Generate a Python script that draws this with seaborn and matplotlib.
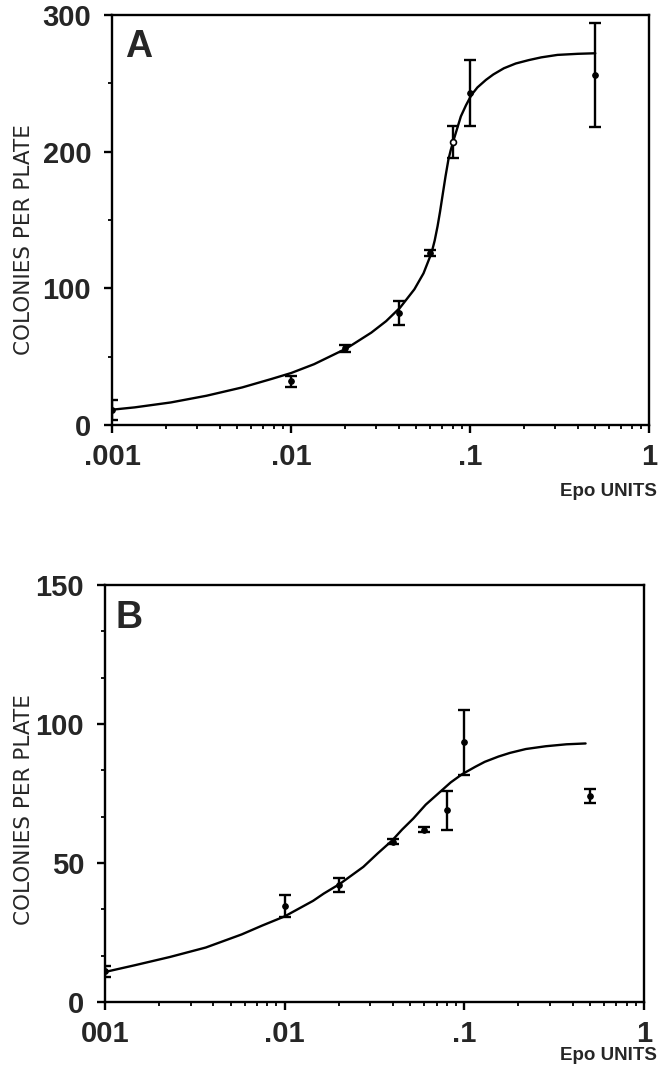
import numpy as np
import pandas as pd
import matplotlib
matplotlib.use("Agg")
import matplotlib.pyplot as plt
from matplotlib.ticker import FixedLocator, NullFormatter, LogLocator
import seaborn as sns

# ---------------- data ----------------
# Panel A: measured points (Epo units, colonies per plate, error)
a_dose = [0.001, 0.01, 0.02, 0.04, 0.06, 0.08, 0.1, 0.5]
a_mean = [11, 32, 56, 82, 126, 207, 243, 256]
a_err = [7, 4, 2.5, 9, 2, 11.5, 24, 38]
a_open = [False, False, False, False, False, True, False, False]

# Panel A: fitted curve
a_curve_x = [0.001, 0.00134, 0.00213, 0.00337, 0.00534, 0.00774, 0.01, 0.01346,
             0.0204, 0.0281, 0.034, 0.0407, 0.0489, 0.055, 0.061, 0.0635, 0.0659,
             0.068, 0.0706, 0.073, 0.0757, 0.078, 0.0811, 0.0889, 0.095, 0.102,
             0.11, 0.1227, 0.135, 0.1545, 0.18, 0.213, 0.25, 0.308, 0.4, 0.501]
a_curve_y = [11.2, 12.9, 16.5, 21.4, 27.5, 33.6, 38, 44.5,
             56, 67.6, 76, 85.9, 99.3, 111, 126, 135, 145.5,
             156, 169.8, 182, 194, 201, 208.7, 225.8, 234, 241.6,
             247, 252.5, 256.5, 261, 264.5, 267, 269, 270.8, 271.6, 272]

# Panel B: measured points
b_dose = [0.001, 0.01, 0.02, 0.04, 0.06, 0.08, 0.1, 0.5]
b_mean = [11, 34.5, 42, 57.7, 62, 69, 93.5, 74]
b_err = [2, 4, 2.5, 1, 1, 7, 11.7, 2.5]

# Panel B: fitted curve
b_curve_x = [0.001, 0.00146, 0.0023, 0.00364, 0.00576, 0.0075, 0.01, 0.0144,
             0.0165, 0.0203, 0.0274, 0.033, 0.0395, 0.045, 0.052, 0.061, 0.0716,
             0.084, 0.0975, 0.115, 0.13, 0.155, 0.1794, 0.22, 0.284, 0.37, 0.473]
b_curve_y = [10.8, 13.2, 16.2, 19.6, 24.3, 27.5, 30.8, 36.4,
             39, 42.5, 48.6, 53.5, 58, 62, 66, 71, 75,
             79, 82, 84.6, 86.4, 88.3, 89.6, 91, 92, 92.7, 93]

# Tick labels
x_ticks = [0.001, 0.01, 0.1, 1]
a_xticklabels = [".001", ".01", ".1", "1"]
b_xticklabels = ["001", ".01", ".1", "1"]
a_yticks = [0, 100, 200, 300]
a_yminor = [50, 150, 250]
b_yticks = [0, 50, 100, 150]
b_yminor = [50 / 3, 100 / 3, 200 / 3, 250 / 3, 350 / 3, 400 / 3]

# ---------------- style ----------------
sns.set_style("ticks")
plt.rcParams['font.family'] = ['Liberation Sans', 'DejaVu Sans']

W, H = 666, 1070
fig = plt.figure(figsize=(W / 100, H / 100), dpi=100)


def px_axes(l, r, t, b):
    return fig.add_axes([l / W, 1 - b / H, (r - l) / W, (b - t) / H])


axA = px_axes(112, 649, 15, 425)
axB = px_axes(105, 644, 585, 1002)

LW = 1.7


def draw_panel(ax, cx, cy, dose, mean, err, open_flags, ylim, yticks, yminor,
               xlabels, letter, letter_xy, capsize):
    df_curve = pd.DataFrame({"dose": cx, "colonies": cy})
    sns.lineplot(data=df_curve, x="dose", y="colonies", ax=ax, color="black",
                 lw=LW, sort=False, estimator=None)
    ax.errorbar(dose, mean, yerr=err, fmt="none", ecolor="black",
                elinewidth=LW, capsize=capsize, capthick=LW, zorder=3)
    filled = [(d, m) for d, m, o in zip(dose, mean, open_flags) if not o]
    hollow = [(d, m) for d, m, o in zip(dose, mean, open_flags) if o]
    if filled:
        df_f = pd.DataFrame(filled, columns=["dose", "colonies"])
        sns.scatterplot(data=df_f, x="dose", y="colonies", ax=ax, color="black",
                        s=16, marker="o", edgecolor="black", linewidth=0.8, zorder=4)
    if hollow:
        df_h = pd.DataFrame(hollow, columns=["dose", "colonies"])
        sns.scatterplot(data=df_h, x="dose", y="colonies", ax=ax, color="white",
                        s=18, marker="o", edgecolor="black", linewidth=1.2, zorder=4)

    ax.set_xscale("log")
    ax.set_xlim(0.001, 1)
    ax.set_ylim(*ylim)
    ax.set_xticks(x_ticks)
    ax.set_xticklabels(xlabels)
    ax.xaxis.set_minor_locator(LogLocator(base=10, subs=np.arange(2, 10)))
    ax.xaxis.set_minor_formatter(NullFormatter())
    ax.set_yticks(yticks)
    ax.set_yticklabels([str(v) for v in yticks])
    ax.yaxis.set_minor_locator(FixedLocator(yminor))
    ax.set_xlabel("")
    ax.set_ylabel("")
    for s in ax.spines.values():
        s.set_visible(True)
        s.set_linewidth(LW)
        s.set_color("black")
    ax.tick_params(axis="both", which="major", direction="out", length=6,
                   width=LW, color="black")
    ax.tick_params(axis="both", which="minor", direction="out", length=3,
                   width=1.3, color="black")
    ax.tick_params(axis="y", which="major", pad=9, labelsize=21)
    ax.tick_params(axis="x", which="major", pad=7, labelsize=21)
    for lab in ax.get_xticklabels() + ax.get_yticklabels():
        lab.set_fontweight("bold")
    ax.text(letter_xy[0], letter_xy[1], letter, transform=ax.transAxes,
            fontsize=27, fontweight="bold", ha="left", va="top")


draw_panel(axA, a_curve_x, a_curve_y, a_dose, a_mean, a_err, a_open,
           (0, 300), a_yticks, a_yminor, a_xticklabels, "A", (0.025, 0.965), 4.5)
draw_panel(axB, b_curve_x, b_curve_y, b_dose, b_mean, b_err, [False] * len(b_dose),
           (0, 150), b_yticks, b_yminor, b_xticklabels, "B", (0.02, 0.965), 4)

# axis titles placed as in the reference
fig.text(24 / W, 1 - 240 / H, "COLONIES PER PLATE", rotation=90, ha="center",
         va="center", fontsize=15.5, family=["DejaVu Sans"])
fig.text(24 / W, 1 - 810 / H, "COLONIES PER PLATE", rotation=90, ha="center",
         va="center", fontsize=15.5, family=["DejaVu Sans"])
fig.text(657 / W, 1 - 492 / H, "Epo UNITS", ha="right", va="center",
         fontsize=13.5, fontweight="bold")
fig.text(657 / W, 1 - 1056 / H, "Epo UNITS", ha="right", va="center",
         fontsize=13.5, fontweight="bold")

fig.savefig("out.png", dpi=100, facecolor="white")
